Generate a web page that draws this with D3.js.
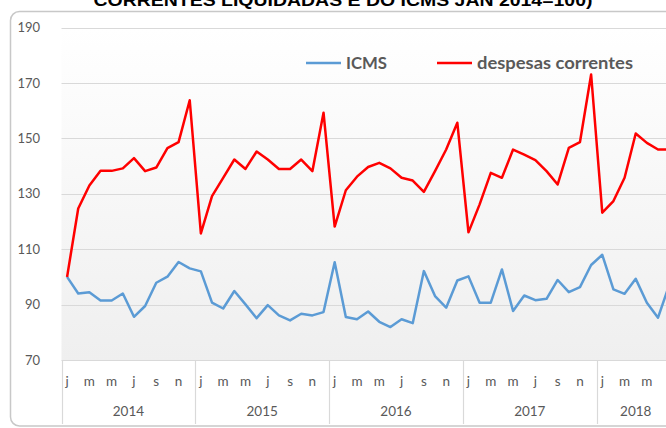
<!DOCTYPE html>
<html>
<head>
<meta charset="utf-8">
<script src="https://cdn.jsdelivr.net/npm/d3@7"></script>
<style>
  html, body { margin: 0; padding: 0; background: #fff; }
  svg { display: block; }
</style>
</head>
<body>
<svg class="chart_svg"></svg>
<script>
// months shown on the axis (every other month gets a letter)
var months = ["j","f","m","a","m","j","j","a","s","o","n","d"];
var years = ["2014","2015","2016","2017","2018"];
var monthsIn2018 = 7;
var yTicks = [70, 90, 110, 130, 150, 170, 190];

// index jan 2014 = 100
var despesas = [100, 124.7, 133, 138.3, 138.3, 139.2, 142.9, 138.2, 139.5, 146.5, 148.7, 163.8,
  115.7, 129.2, 135.8, 142.4, 139, 145.3, 142.4, 139, 139, 142.4, 138.2, 159.3,
  118.2, 131.3, 136.2, 139.7, 141.2, 139.2, 135.8, 134.8, 130.7, 138.2, 146, 155.7,
  116.1, 126.2, 137.6, 135.8, 146, 144.2, 142.2, 138.2, 133.4, 146.6, 148.7, 173.1,
  123.2, 127.4, 135.8, 151.8, 148.4, 146, 146];
var icms = [100, 94, 94.5, 91.5, 91.5, 94, 85.6, 89.5, 97.9, 100.1, 105.4, 103.1,
  102, 90.7, 88.6, 94.9, 90.1, 85.1, 89.8, 86.1, 84.3, 86.7, 86.1, 87.3,
  105.3, 85.5, 84.7, 87.5, 83.8, 81.9, 84.7, 83.3, 102.1, 93.1, 88.9, 98.7,
  100.2, 90.7, 90.7, 102.7, 87.7, 93.3, 91.6, 92.1, 98.9, 94.5, 96.3, 104.3,
  108, 95.5, 93.9, 99.3, 90.7, 85.3, 97];

var title = "CORRENTES LIQUIDADAS E DO ICMS JAN 2014=100)";
var seriesNames = ["ICMS", "despesas correntes"];
var colors = ["#5b9bd5", "#ff0000"];

var W = 666, H = 428;
var plotLeft = 61.5, bandW = 11.15;
var plotTop = 27.7, plotBottom = 360;

// build the category list: one entry per month
var cats = [];
years.forEach(function(yr, yi) {
  var n = yi == years.length - 1 ? monthsIn2018 : 12;
  for (var m = 0; m < n; m++) cats.push({ year: yr, m: m, key: yr + "-" + m });
});

var svg = d3.select(".chart_svg").attr("width", W).attr("height", H);
var font = "Lato, 'Open Sans', sans-serif";

// outer chart border
svg.append("rect")
  .attr("x", 10.5).attr("y", 11.5)
  .attr("width", 700).attr("height", 414.5)
  .attr("rx", 9)
  .attr("fill", "#fff")
  .attr("stroke", "#c8c8c8")
  .attr("stroke-width", 1.5);

// title (only its lower part is in view)
svg.append("text")
  .attr("x", 343).attr("y", 6)
  .attr("text-anchor", "middle")
  .attr("font-family", "'Liberation Sans', Arial, sans-serif")
  .attr("font-weight", "bold")
  .attr("font-size", 16)
  .attr("textLength", 499)
  .attr("lengthAdjust", "spacingAndGlyphs")
  .attr("fill", "#000")
  .text(title);

var x = d3.scaleBand().domain(cats.map(function(d) { return d.key; }))
  .range([plotLeft, plotLeft + bandW * cats.length]);
var y = d3.scaleLinear().domain([70, 190]).range([plotBottom, plotTop]);

// plot area background gradient
var grad = svg.append("defs").append("linearGradient")
  .attr("id", "plotbg").attr("x1", 0).attr("y1", 0).attr("x2", 0).attr("y2", 1);
grad.append("stop").attr("offset", "0%").attr("stop-color", "#ffffff");
grad.append("stop").attr("offset", "100%").attr("stop-color", "#efefef");
svg.append("rect")
  .attr("x", plotLeft).attr("y", plotTop)
  .attr("width", bandW * cats.length).attr("height", plotBottom - plotTop)
  .attr("fill", "url(#plotbg)");

// gridlines
svg.append("g").selectAll("line").data(yTicks).join("line")
  .attr("x1", plotLeft).attr("x2", W)
  .attr("y1", function(d) { return Math.round(y(d)) + 0.5; })
  .attr("y2", function(d) { return Math.round(y(d)) + 0.5; })
  .attr("stroke", "#d9d9d9").attr("stroke-width", 1.2);

// y labels
svg.append("g").selectAll("text").data(yTicks).join("text")
  .attr("x", 40).attr("y", function(d) { return y(d) + 4.5; })
  .attr("text-anchor", "end")
  .attr("font-family", font).attr("font-size", 13)
  .attr("fill", "#595959")
  .text(function(d) { return d; });

// year separators under the axis
var yearStarts = cats.filter(function(d) { return d.m == 0; });
svg.append("g").selectAll("line").data(yearStarts).join("line")
  .attr("x1", function(d) { return Math.round(x(d.key)) + 0.5; })
  .attr("x2", function(d) { return Math.round(x(d.key)) + 0.5; })
  .attr("y1", plotBottom).attr("y2", 424)
  .attr("stroke", "#d9d9d9").attr("stroke-width", 1.2);

// month letters
svg.append("g").selectAll("text").data(cats.filter(function(d) { return d.m % 2 == 0; })).join("text")
  .attr("x", function(d) { return x(d.key) + bandW / 2; })
  .attr("y", 386)
  .attr("text-anchor", "middle")
  .attr("font-family", font).attr("font-size", 13.5)
  .attr("fill", "#595959")
  .text(function(d) { return months[d.m]; });

// year labels, centred on their months
svg.append("g").selectAll("text").data(years).join("text")
  .attr("x", function(yr) {
    var c = cats.filter(function(d) { return d.year == yr; });
    return (x(c[0].key) + x(c[c.length - 1].key) + bandW) / 2;
  })
  .attr("y", 416)
  .attr("text-anchor", "middle")
  .attr("font-family", font).attr("font-size", 13.5)
  .attr("fill", "#595959")
  .text(function(d) { return d; });

// series lines
var line = d3.line()
  .x(function(d, i) { return x(cats[i].key) + bandW / 2; })
  .y(function(d) { return y(d); });

svg.append("path").datum(icms)
  .attr("d", line)
  .attr("fill", "none")
  .attr("stroke", colors[0]).attr("stroke-width", 2.5)
  .attr("stroke-linejoin", "round");

svg.append("path").datum(despesas)
  .attr("d", line)
  .attr("fill", "none")
  .attr("stroke", colors[1]).attr("stroke-width", 2.5)
  .attr("stroke-linejoin", "round");

// legend
var legendX = [306, 437];
var legendW = [41, 156];
var lg = svg.append("g").selectAll("g").data(seriesNames).join("g")
  .attr("transform", function(d, i) { return "translate(" + legendX[i] + ",63)"; });
lg.append("line")
  .attr("x1", 0).attr("x2", 35).attr("y1", 0).attr("y2", 0)
  .attr("stroke", function(d, i) { return colors[i]; })
  .attr("stroke-width", 2.5);
lg.append("text")
  .attr("x", 40).attr("y", 6)
  .attr("font-family", font).attr("font-weight", "bold").attr("font-size", 17)
  .attr("textLength", function(d, i) { return legendW[i]; })
  .attr("lengthAdjust", "spacingAndGlyphs")
  .attr("fill", "#595959")
  .text(function(d) { return d; });
</script>
</body>
</html>
